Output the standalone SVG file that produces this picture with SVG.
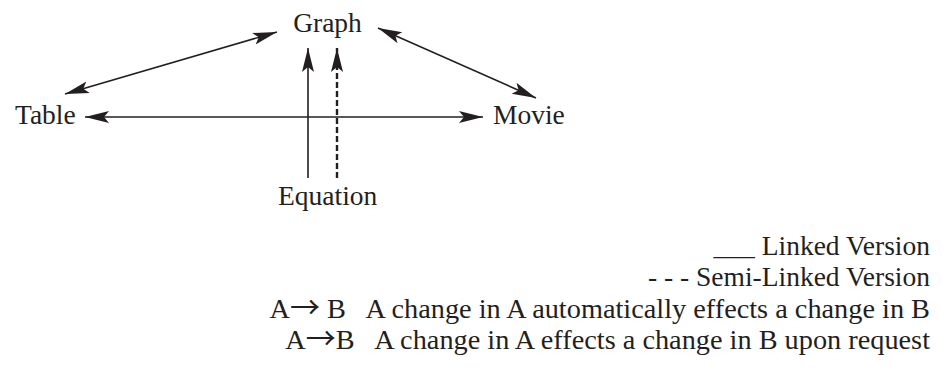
<svg xmlns="http://www.w3.org/2000/svg" width="943" height="378" viewBox="0 0 943 378">
<style>
text{font-family:"Liberation Serif","Times New Roman",serif;font-size:27.5px;fill:#231f20;white-space:pre}
.l{font-size:28.3px}
.ar{font-family:"Noto Sans CJK JP","Liberation Serif",sans-serif;font-size:30px}
.c{stroke:#231f20;stroke-width:1.6;fill:none}
.d{stroke-dasharray:6,3;stroke-width:2.4}
</style>
<defs>
<marker id="ah" markerUnits="userSpaceOnUse" markerWidth="26" markerHeight="14" refX="24" refY="6.5" orient="auto-start-reverse" viewBox="0 0 26 14">
<path d="M0,0.5 L24,6.5 L0,12.5 L5,6.5 Z" fill="#231f20"/>
</marker>
</defs>
<rect width="943" height="378" fill="#fff"/>
<g id="connectors">
<line class="c" x1="65" y1="94" x2="277" y2="32" marker-start="url(#ah)" marker-end="url(#ah)"/>
<line class="c" x1="378" y1="28" x2="536" y2="98" marker-start="url(#ah)" marker-end="url(#ah)"/>
<line class="c" x1="85" y1="117" x2="483" y2="117" marker-start="url(#ah)" marker-end="url(#ah)"/>
<line class="c" x1="308" y1="178" x2="308" y2="48" marker-end="url(#ah)"/>
<line class="c d" x1="337" y1="178" x2="337" y2="48" marker-end="url(#ah)"/>
</g>
<g id="graph"><text x="327.5" y="32" text-anchor="middle">Graph</text></g>
<g id="table"><text x="15" y="124">Table</text></g>
<g id="movie"><text x="493" y="124">Movie</text></g>
<g id="equation"><text x="278" y="205">Equation</text></g>
<g id="legend">
<text x="930" y="255" text-anchor="end">___ Linked Version</text>
<text x="930" y="286" text-anchor="end">- - - Semi-Linked Version</text>
<text class="l" x="930" y="318" text-anchor="end">A<tspan class="ar">→</tspan> B   A change in A automatically effects a change in B</text>
<text class="l" x="930" y="349" text-anchor="end">A<tspan class="ar">→</tspan>B   A change in A effects a change in B upon request</text>
</g>
</svg>
